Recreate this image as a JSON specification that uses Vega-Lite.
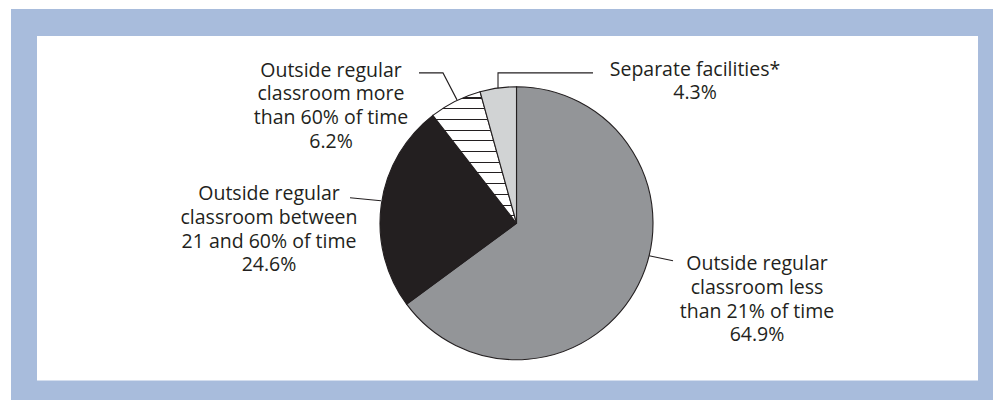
{
  "$schema": "https://vega.github.io/schema/vega-lite/v6.json",
  "width": 993,
  "height": 400,
  "autosize": {"type": "none"},
  "padding": 0,
  "background": "white",
  "config": {"view": {"stroke": null}},
  "datasets": {
    "frame": [
      {"part": "outer", "x0": -3.7033, "x1": 3.4908, "y0": 1.5714, "y1": -1.2967},
      {"part": "inner", "x0": -3.5128, "x1": 3.381, "y0": 1.3736, "y1": -1.1538}
    ],
    "slices": [
      {"key": "less", "label": "Outside regular classroom less than 21% of time", "pct": 64.9, "ord": 1},
      {"key": "between", "label": "Outside regular classroom between 21 and 60% of time", "pct": 24.6, "ord": 2},
      {"key": "more", "label": "Outside regular classroom more than 60% of time", "pct": 6.2, "ord": 3},
      {"key": "separate", "label": "Separate facilities*", "pct": 4.3, "ord": 4}
    ],
    "leaders": [
      {"lid": "separate", "seq": 1, "x": -0.1355, "y": 0.9908},
      {"lid": "separate", "seq": 2, "x": -0.1355, "y": 1.1026},
      {"lid": "separate", "seq": 3, "x": 0.5604, "y": 1.1026},
      {"lid": "more", "seq": 1, "x": -0.4359, "y": 0.9048},
      {"lid": "more", "seq": 2, "x": -0.5385, "y": 1.1026},
      {"lid": "more", "seq": 3, "x": -0.7143, "y": 1.1026},
      {"lid": "between", "seq": 1, "x": -0.9927, "y": 0.1648},
      {"lid": "between", "seq": 2, "x": -1.2198, "y": 0.1868},
      {"lid": "less", "seq": 1, "x": 0.971, "y": -0.238},
      {"lid": "less", "seq": 2, "x": 1.1465, "y": -0.2747}
    ],
    "labels": [
      {"key": "separate", "text": "Separate facilities*\n4.3%", "x": 1.3077, "y": 1.0828},
      {"key": "more", "text": "Outside regular\nclassroom more\nthan 60% of time\n6.2%", "x": -1.359, "y": 1.0733},
      {"key": "between", "text": "Outside regular\nclassroom between\n21 and 60% of time\n24.6%", "x": -1.8132, "y": 0.167},
      {"key": "less", "text": "Outside regular\nclassroom less\nthan 21% of time\n64.9%", "x": 1.7619, "y": -0.3458}
    ]
  },
  "resolve": {"scale": {"x": "shared", "y": "shared", "fill": "independent"}},
  "layer": [
    {
      "data": {"name": "frame"},
      "mark": {"type": "rect"},
      "encoding": {
        "x": {"field": "x0", "type": "quantitative", "scale": {"domain": [-3.7839, 3.4908], "nice": false, "zero": false}, "axis": null},
        "x2": {"field": "x1"},
        "y": {"field": "y0", "type": "quantitative", "scale": {"domain": [-1.2967, 1.6374], "nice": false, "zero": false}, "axis": null},
        "y2": {"field": "y1"},
        "fill": {"field": "part", "type": "nominal", "scale": {"domain": ["outer", "inner"], "range": ["#a8bcdc", "#ffffff"]}, "legend": null},
        "order": {"field": "part", "sort": "descending"}
      }
    },
    {
      "data": {"name": "slices"},
      "mark": {"type": "arc", "radius": 136.5, "stroke": "#231f20", "strokeWidth": 1.1},
      "encoding": {
        "x": {"datum": 0, "type": "quantitative"},
        "y": {"datum": 0, "type": "quantitative"},
        "theta": {"field": "pct", "type": "quantitative", "stack": true},
        "order": {"field": "ord", "type": "quantitative"},
        "fill": {
          "condition": {
            "test": "datum.key === 'more'",
            "value": {
              "gradient": "linear", "x1": 0, "y1": 0, "x2": 0, "y2": 1,
              "stops": [
                {"offset": 0, "color": "#ffffff"},
                {"offset": 0.044, "color": "#ffffff"}, {"offset": 0.044, "color": "#231f20"}, {"offset": 0.052, "color": "#231f20"}, {"offset": 0.052, "color": "#ffffff"},
                {"offset": 0.125, "color": "#ffffff"}, {"offset": 0.125, "color": "#231f20"}, {"offset": 0.133, "color": "#231f20"}, {"offset": 0.133, "color": "#ffffff"},
                {"offset": 0.207, "color": "#ffffff"}, {"offset": 0.207, "color": "#231f20"}, {"offset": 0.215, "color": "#231f20"}, {"offset": 0.215, "color": "#ffffff"},
                {"offset": 0.288, "color": "#ffffff"}, {"offset": 0.288, "color": "#231f20"}, {"offset": 0.296, "color": "#231f20"}, {"offset": 0.296, "color": "#ffffff"},
                {"offset": 0.370, "color": "#ffffff"}, {"offset": 0.370, "color": "#231f20"}, {"offset": 0.378, "color": "#231f20"}, {"offset": 0.378, "color": "#ffffff"},
                {"offset": 0.451, "color": "#ffffff"}, {"offset": 0.451, "color": "#231f20"}, {"offset": 0.459, "color": "#231f20"}, {"offset": 0.459, "color": "#ffffff"},
                {"offset": 0.532, "color": "#ffffff"}, {"offset": 0.532, "color": "#231f20"}, {"offset": 0.540, "color": "#231f20"}, {"offset": 0.540, "color": "#ffffff"},
                {"offset": 0.614, "color": "#ffffff"}, {"offset": 0.614, "color": "#231f20"}, {"offset": 0.622, "color": "#231f20"}, {"offset": 0.622, "color": "#ffffff"},
                {"offset": 0.695, "color": "#ffffff"}, {"offset": 0.695, "color": "#231f20"}, {"offset": 0.703, "color": "#231f20"}, {"offset": 0.703, "color": "#ffffff"},
                {"offset": 0.777, "color": "#ffffff"}, {"offset": 0.777, "color": "#231f20"}, {"offset": 0.785, "color": "#231f20"}, {"offset": 0.785, "color": "#ffffff"},
                {"offset": 0.858, "color": "#ffffff"}, {"offset": 0.858, "color": "#231f20"}, {"offset": 0.866, "color": "#231f20"}, {"offset": 0.866, "color": "#ffffff"},
                {"offset": 0.939, "color": "#ffffff"}, {"offset": 0.939, "color": "#231f20"}, {"offset": 0.947, "color": "#231f20"}, {"offset": 0.947, "color": "#ffffff"},
                {"offset": 1, "color": "#ffffff"}
              ]
            }
          },
          "field": "key",
          "type": "nominal",
          "scale": {"domain": ["less", "between", "more", "separate"], "range": ["#939598", "#231f20", "#ffffff", "#d1d3d4"]},
          "legend": null
        }
      }
    },
    {
      "data": {"name": "leaders"},
      "mark": {"type": "line", "stroke": "#231f20", "strokeWidth": 1.1},
      "encoding": {
        "x": {"field": "x", "type": "quantitative"},
        "y": {"field": "y", "type": "quantitative"},
        "detail": {"field": "lid"},
        "order": {"field": "seq", "type": "quantitative"}
      }
    },
    {
      "data": {"name": "labels"},
      "mark": {"type": "text", "align": "center", "baseline": "alphabetic", "lineBreak": "\n", "lineHeight": 23.6, "font": "Open Sans", "fontSize": 19.5, "fill": "#231f20"},
      "encoding": {
        "x": {"field": "x", "type": "quantitative"},
        "y": {"field": "y", "type": "quantitative"},
        "text": {"field": "text"}
      }
    }
  ]
}
